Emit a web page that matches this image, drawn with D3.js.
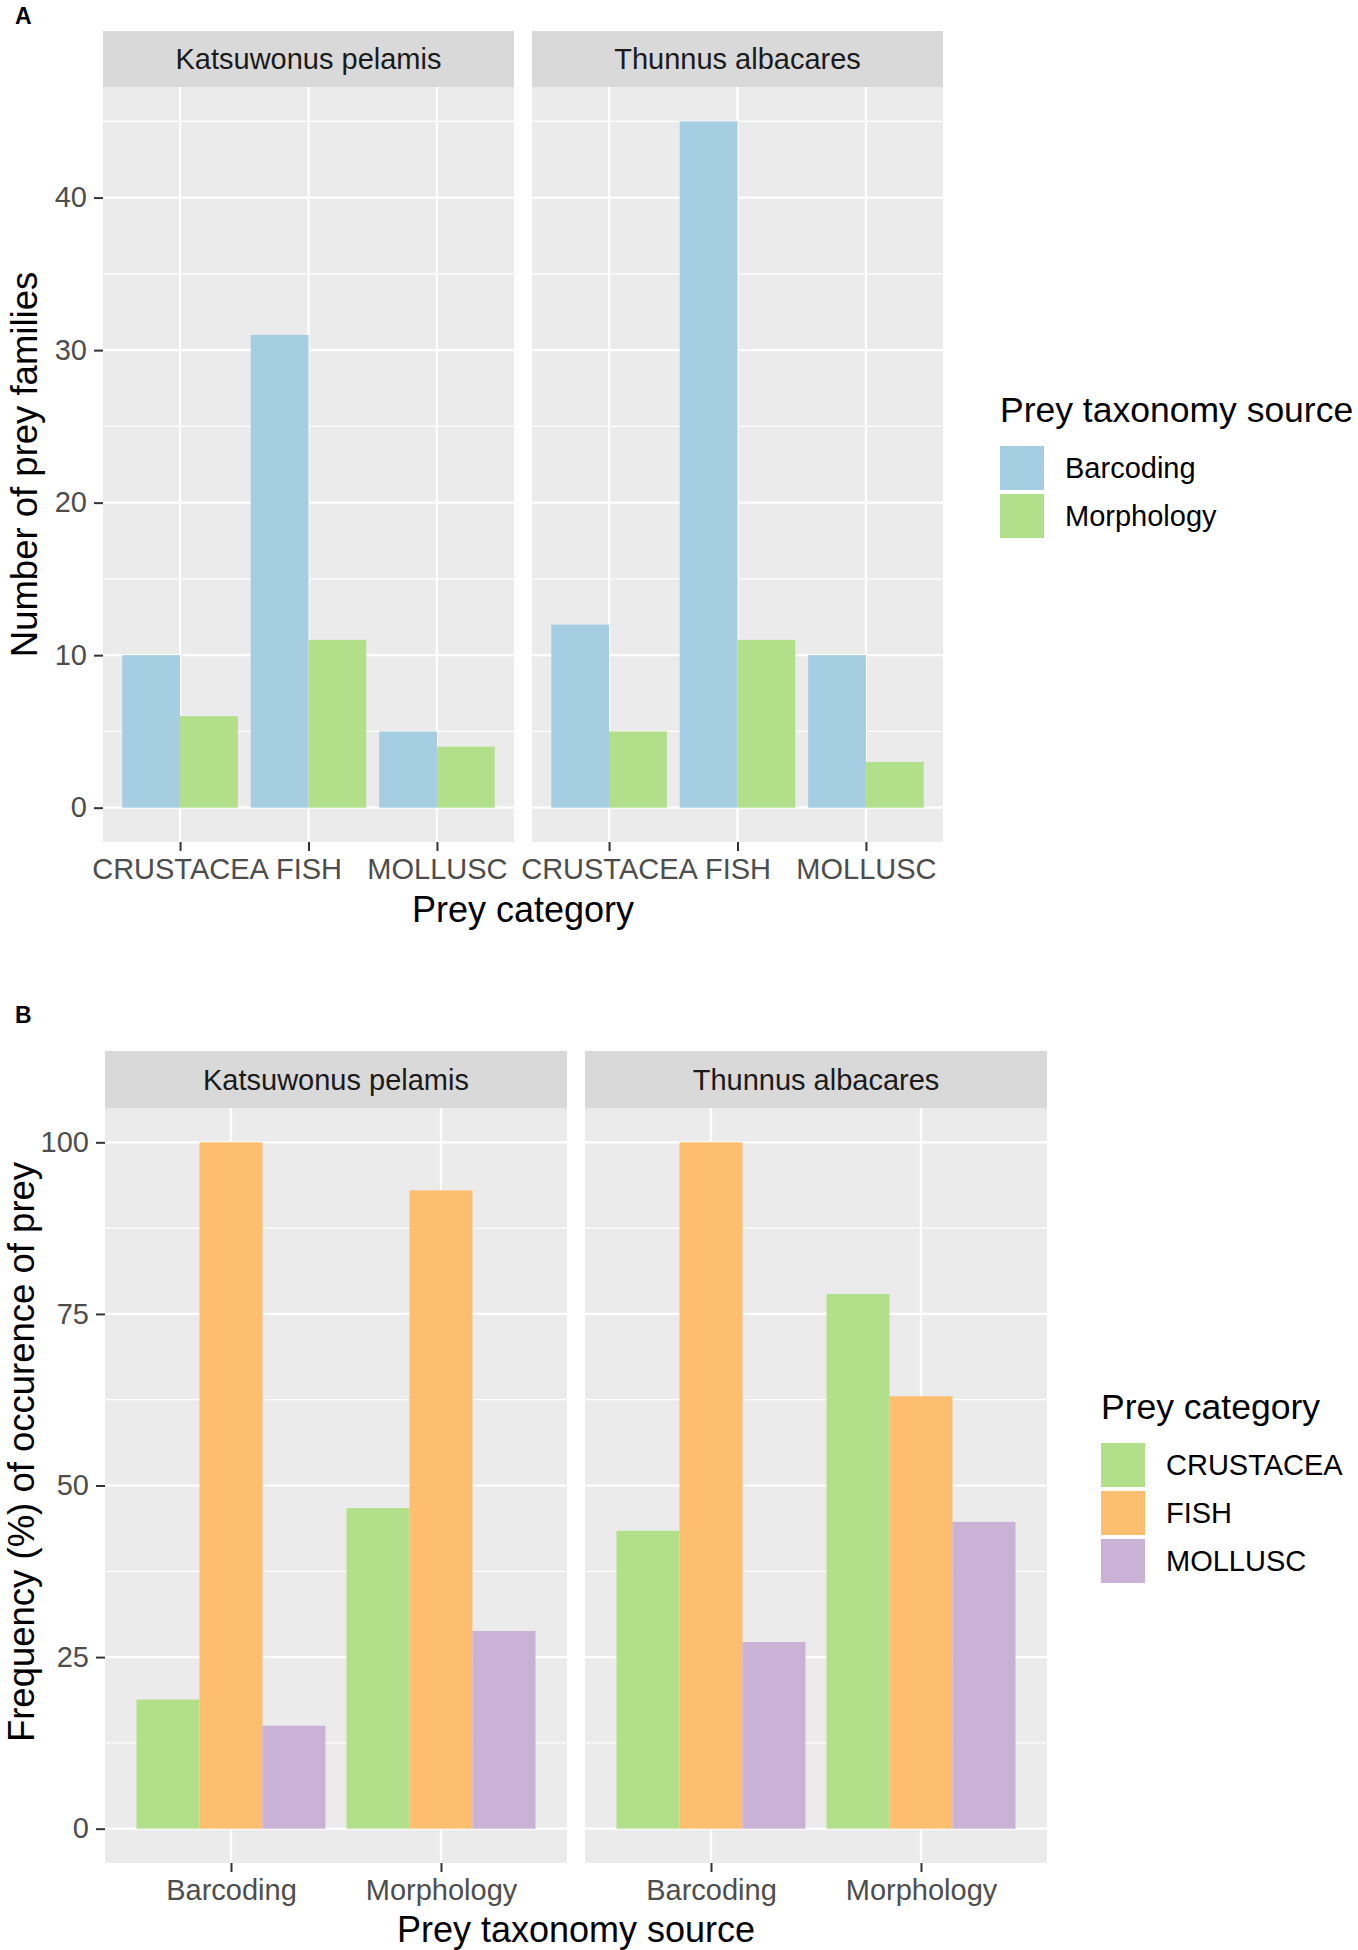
<!DOCTYPE html>
<html>
<head>
<meta charset="utf-8">
<script src="https://cdn.jsdelivr.net/npm/d3@7"></script>
<style>
  body { margin: 0; background: #fff; }
  text { font-family: "Liberation Sans", Arial, sans-serif; }
</style>
</head>
<body>
<div id="chart"></div>
<script>
// ---- data ----
const species = ["Katsuwonus pelamis", "Thunnus albacares"]
const preyCategories = ["CRUSTACEA", "FISH", "MOLLUSC"]
const taxonomySources = ["Barcoding", "Morphology"]

// Panel A: number of prey families, per prey category
const familiesKpBarcoding = [10, 31, 5]
const familiesKpMorphology = [6, 11, 4]
const familiesTaBarcoding = [12, 45, 10]
const familiesTaMorphology = [5, 11, 3]

// Panel B: frequency (%) of occurrence, per taxonomy source
const freqKpCrustacea = [18.8, 46.7]
const freqKpFish = [100, 93.0]
const freqKpMollusc = [15.0, 28.8]
const freqTaCrustacea = [43.4, 77.9]
const freqTaFish = [100, 63.0]
const freqTaMollusc = [27.2, 44.7]

const ticksA = [0, 10, 20, 30, 40]
const minorTicksA = [5, 15, 25, 35, 45]
const ticksB = [0, 25, 50, 75, 100]
const minorTicksB = [12.5, 37.5, 62.5, 87.5]

const sourceColors = { Barcoding: "#a6cee3", Morphology: "#b2df8a" }
const preyColors = { CRUSTACEA: "#b2df8a", FISH: "#fdbf6f", MOLLUSC: "#cab2d6" }

// ---- layout ----
const width = 1358, height = 1950
const svg = d3.select("#chart").append("svg")
  .attr("width", width)
  .attr("height", height)
  .attr("viewBox", [0, 0, width, height])

const tickFont = 29, titleFont = 36, legendTitleFont = 35.5

function drawFacets(cfg) {
  const y = d3.scaleLinear().domain(cfg.yDomain).range([cfg.bottom, cfg.top])

  cfg.panels.forEach((p, i) => {
    const x0 = cfg.left + i * (cfg.panelWidth + cfg.gap)
    const g = svg.append("g").attr("transform", `translate(${x0},0)`)

    const x = d3.scalePoint().domain(cfg.xCats).range([0, cfg.panelWidth]).padding(0.6)
    const step = x.step()
    const inner = d3.scaleBand().domain(cfg.groups).range([-0.45 * step, 0.45 * step])

    // strip
    g.append("rect")
      .attr("x", 0).attr("y", cfg.stripTop)
      .attr("width", cfg.panelWidth).attr("height", cfg.top - cfg.stripTop)
      .attr("fill", "#d9d9d9")
    g.append("text")
      .attr("x", cfg.panelWidth / 2)
      .attr("y", (cfg.stripTop + cfg.top) / 2 + 0.36 * tickFont)
      .attr("text-anchor", "middle")
      .attr("font-size", tickFont)
      .attr("fill", "#1a1a1a")
      .text(p.name)

    // panel background + grid
    g.append("rect")
      .attr("x", 0).attr("y", cfg.top)
      .attr("width", cfg.panelWidth).attr("height", cfg.bottom - cfg.top)
      .attr("fill", "#ebebeb")

    g.selectAll(".minor")
      .data(cfg.minorTicks)
      .enter().append("line")
      .attr("x1", 0).attr("x2", cfg.panelWidth)
      .attr("y1", d => y(d)).attr("y2", d => y(d))
      .attr("stroke", "#fff").attr("stroke-width", 1.2)

    g.selectAll(".major")
      .data(cfg.ticks)
      .enter().append("line")
      .attr("x1", 0).attr("x2", cfg.panelWidth)
      .attr("y1", d => y(d)).attr("y2", d => y(d))
      .attr("stroke", "#fff").attr("stroke-width", 2.2)

    g.selectAll(".vmajor")
      .data(cfg.xCats)
      .enter().append("line")
      .attr("x1", d => x(d)).attr("x2", d => x(d))
      .attr("y1", cfg.top).attr("y2", cfg.bottom)
      .attr("stroke", "#fff").attr("stroke-width", 2.2)

    // bars
    const bars = []
    cfg.groups.forEach((grp, gi) => {
      cfg.xCats.forEach((cat, ci) => {
        bars.push({ cat, grp, value: p.series[gi][ci] })
      })
    })
    g.selectAll(".bar")
      .data(bars)
      .enter().append("rect")
      .attr("x", d => x(d.cat) + inner(d.grp))
      .attr("width", inner.bandwidth())
      .attr("y", d => y(d.value))
      .attr("height", d => y(0) - y(d.value))
      .attr("fill", d => cfg.colors[d.grp])

    // x axis
    const xAxis = g.append("g")
      .attr("transform", `translate(0,${cfg.bottom})`)
      .call(d3.axisBottom(x).tickSize(9).tickPadding(7).tickSizeOuter(0))
    xAxis.select(".domain").remove()
    xAxis.selectAll("line").attr("stroke", "#333").attr("stroke-width", 2)
    xAxis.selectAll("text")
      .attr("font-size", tickFont)
      .attr("font-family", "Liberation Sans, Arial, sans-serif")
      .attr("fill", "#4d4d4d")

    // y axis only on first panel
    if (i === 0) {
      const yAxis = g.append("g")
        .call(d3.axisLeft(y).tickValues(cfg.ticks).tickSize(9).tickPadding(7).tickSizeOuter(0))
      yAxis.select(".domain").remove()
      yAxis.selectAll("line").attr("stroke", "#333").attr("stroke-width", 2)
      yAxis.selectAll("text")
        .attr("font-size", tickFont)
        .attr("font-family", "Liberation Sans, Arial, sans-serif")
        .attr("fill", "#4d4d4d")
    }
  })

  const totalRight = cfg.left + 2 * cfg.panelWidth + cfg.gap

  // axis titles
  svg.append("text")
    .attr("x", (cfg.left + totalRight) / 2)
    .attr("y", cfg.xTitleY)
    .attr("text-anchor", "middle")
    .attr("font-size", titleFont)
    .attr("fill", "#000")
    .text(cfg.xTitle)

  svg.append("text")
    .attr("transform", `translate(${cfg.yTitleX},${cfg.yTitleY}) rotate(-90)`)
    .attr("text-anchor", "middle")
    .attr("font-size", cfg.yTitleFont)
    .attr("fill", "#000")
    .text(cfg.yTitle)

  // tag
  svg.append("text")
    .attr("x", 15)
    .attr("y", cfg.tagY)
    .attr("font-size", 23)
    .attr("font-weight", "bold")
    .attr("fill", "#000")
    .text(cfg.tag)

  // legend
  const lg = svg.append("g").attr("transform", `translate(${cfg.legendX},${cfg.legendY})`)
  lg.append("text")
    .attr("x", 0).attr("y", 0)
    .attr("font-size", legendTitleFont)
    .attr("fill", "#000")
    .text(cfg.legendTitle)
  const keyPitch = 48
  const keys = lg.selectAll(".key")
    .data(cfg.groups)
    .enter().append("g")
    .attr("transform", (d, k) => `translate(0,${24 + k * keyPitch})`)
  keys.append("rect")
    .attr("x", 0).attr("y", 0)
    .attr("width", 44).attr("height", 44)
    .attr("fill", d => cfg.colors[d])
  keys.append("text")
    .attr("x", 65)
    .attr("y", 22 + 0.36 * tickFont)
    .attr("font-size", tickFont)
    .attr("fill", "#000")
    .text(d => d)
}

drawFacets({
  tag: "A", tagY: 24,
  left: 103, panelWidth: 411, gap: 18,
  stripTop: 31, top: 87, bottom: 842,
  yDomain: [-2.25, 47.25],
  ticks: ticksA, minorTicks: minorTicksA,
  xCats: preyCategories, groups: taxonomySources, colors: sourceColors,
  panels: [
    { name: species[0], series: [familiesKpBarcoding, familiesKpMorphology] },
    { name: species[1], series: [familiesTaBarcoding, familiesTaMorphology] }
  ],
  xTitle: "Prey category", xTitleY: 922,
  yTitle: "Number of prey families", yTitleX: 37, yTitleY: 464.5, yTitleFont: 36.5,
  legendTitle: "Prey taxonomy source", legendX: 1000, legendY: 422
})

drawFacets({
  tag: "B", tagY: 1023,
  left: 105, panelWidth: 462, gap: 18,
  stripTop: 1051, top: 1108, bottom: 1863,
  yDomain: [-5, 105],
  ticks: ticksB, minorTicks: minorTicksB,
  xCats: taxonomySources, groups: preyCategories, colors: preyColors,
  panels: [
    { name: species[0], series: [freqKpCrustacea, freqKpFish, freqKpMollusc] },
    { name: species[1], series: [freqTaCrustacea, freqTaFish, freqTaMollusc] }
  ],
  xTitle: "Prey taxonomy source", xTitleY: 1942,
  yTitle: "Frequency (%) of occurence of prey", yTitleX: 34, yTitleY: 1452, yTitleFont: 36.5,
  legendTitle: "Prey category", legendX: 1101, legendY: 1419
})
</script>
</body>
</html>
